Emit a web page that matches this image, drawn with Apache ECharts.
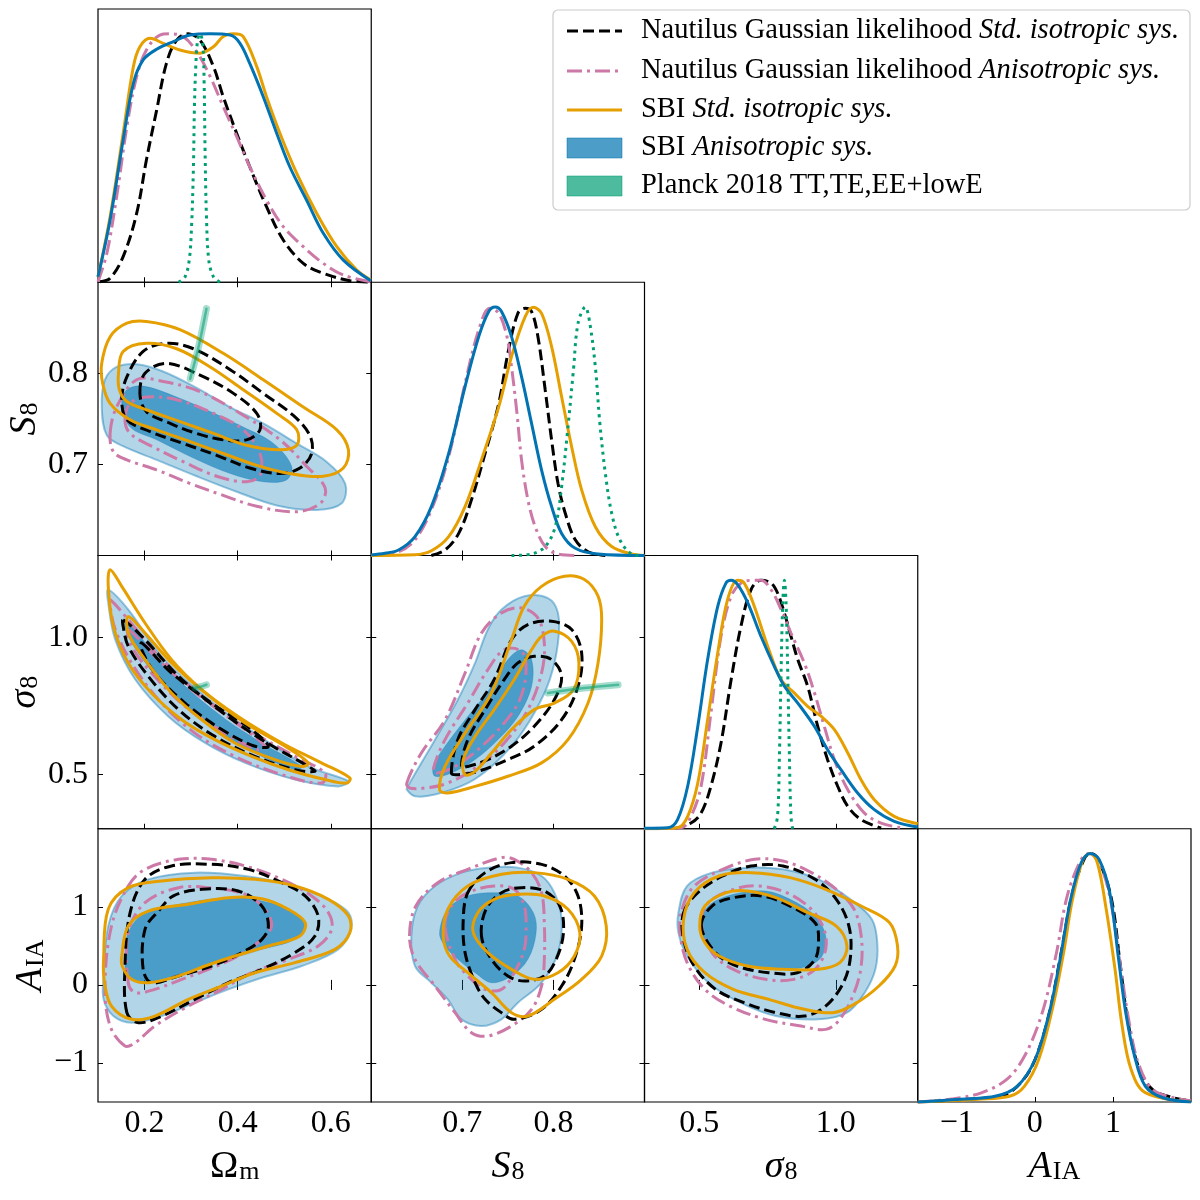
<!DOCTYPE html>
<html><head><meta charset="utf-8">
<script src="https://cdn.jsdelivr.net/npm/echarts@6/dist/echarts.min.js"></script>
<style>html,body{margin:0;padding:0;background:#fff}#c{width:1200px;height:1200px}</style>
</head><body><div id="c"></div>
<script>
// ---------------- tick labels ----------------
const omTicks = [0.2, 0.4, 0.6];
const s8Ticks = [0.7, 0.8];
const sigTicks = [0.5, 1.0];
const aiaTicks = [-1, 0, 1];

// ---------------- 1D marginals (normalised to peak 1) ----------------
const omDiag_nautStd = [[0.104,0.002],[0.126,0.016],[0.154,0.103],[0.183,0.277],[0.204,0.492],[0.226,0.693],[0.247,0.881],[0.269,0.975],[0.294,1.0],[0.319,0.975],[0.348,0.868],[0.369,0.747],[0.398,0.599],[0.426,0.465],[0.462,0.304],[0.498,0.170],[0.541,0.076],[0.584,0.036],[0.641,0.006],[0.686,0]];
const omDiag_nautAniso = [[0.100,0.002],[0.119,0.116],[0.140,0.344],[0.162,0.626],[0.183,0.828],[0.204,0.935],[0.233,0.995],[0.255,1.0],[0.283,0.989],[0.312,0.928],[0.341,0.828],[0.369,0.707],[0.398,0.586],[0.426,0.465],[0.462,0.331],[0.498,0.224],[0.541,0.143],[0.584,0.076],[0.627,0.029],[0.686,0.002]];
const omDiag_sbiStd = [[0.100,0.022],[0.126,0.264],[0.154,0.599],[0.176,0.868],[0.190,0.948],[0.212,0.982],[0.240,0.962],[0.276,0.935],[0.319,0.922],[0.348,0.948],[0.369,0.989],[0.391,1.0],[0.412,0.989],[0.441,0.868],[0.462,0.747],[0.491,0.599],[0.527,0.438],[0.570,0.277],[0.613,0.143],[0.656,0.049],[0.686,0.009]];
const omDiag_sbiAniso = [[0.100,0.022],[0.126,0.251],[0.154,0.573],[0.176,0.801],[0.197,0.895],[0.226,0.938],[0.262,0.969],[0.298,0.995],[0.341,1.0],[0.384,0.995],[0.405,0.962],[0.426,0.881],[0.455,0.747],[0.484,0.599],[0.512,0.465],[0.548,0.331],[0.584,0.197],[0.627,0.089],[0.686,0.006]];
const omDiag_planck = [[0.273,0],[0.287,0.022],[0.296,0.089],[0.301,0.224],[0.305,0.465],[0.307,0.693],[0.310,0.868],[0.314,0.975],[0.319,1.0],[0.325,0.962],[0.328,0.801],[0.330,0.532],[0.333,0.264],[0.338,0.089],[0.348,0.022],[0.362,0]];

const s8Diag_nautStd = [[0.666,0],[0.681,0.022],[0.696,0.089],[0.710,0.224],[0.725,0.411],[0.740,0.612],[0.750,0.814],[0.761,0.975],[0.769,0.995],[0.776,0.982],[0.783,0.881],[0.791,0.666],[0.798,0.465],[0.805,0.291],[0.813,0.170],[0.824,0.063],[0.838,0.015],[0.857,0]];
const s8Diag_nautAniso = [[0.600,0],[0.630,0.015],[0.648,0.063],[0.666,0.184],[0.685,0.398],[0.703,0.693],[0.718,0.908],[0.730,0.995],[0.740,0.975],[0.749,0.881],[0.754,0.760],[0.760,0.572],[0.765,0.385],[0.772,0.224],[0.780,0.116],[0.791,0.036],[0.805,0.006],[0.827,0]];
const s8Diag_sbiStd = [[0.600,0],[0.648,0.003],[0.666,0.019],[0.685,0.076],[0.703,0.197],[0.721,0.385],[0.740,0.599],[0.754,0.801],[0.769,0.962],[0.778,0.999],[0.787,0.975],[0.798,0.841],[0.809,0.639],[0.820,0.438],[0.831,0.264],[0.846,0.116],[0.864,0.036],[0.886,0.006],[0.900,0]];
const s8Diag_sbiAniso = [[0.600,0.002],[0.615,0.009],[0.630,0.022],[0.648,0.076],[0.666,0.197],[0.685,0.411],[0.703,0.680],[0.718,0.881],[0.729,0.982],[0.736,1.0],[0.743,0.982],[0.754,0.881],[0.765,0.720],[0.776,0.532],[0.787,0.344],[0.798,0.197],[0.809,0.089],[0.824,0.029],[0.849,0.006],[0.900,0]];
const s8Diag_planck = [[0.754,0],[0.776,0.006],[0.791,0.036],[0.802,0.116],[0.809,0.277],[0.816,0.518],[0.822,0.747],[0.827,0.934],[0.835,1.0],[0.840,0.934],[0.846,0.760],[0.851,0.532],[0.857,0.331],[0.864,0.170],[0.873,0.063],[0.886,0.006],[0.897,0]];

const sigDiag_nautStd = [[0.409,0],[0.470,0.023],[0.507,0.063],[0.543,0.171],[0.580,0.345],[0.617,0.600],[0.653,0.815],[0.690,0.963],[0.726,1.0],[0.763,0.989],[0.787,0.949],[0.812,0.868],[0.836,0.775],[0.861,0.681],[0.897,0.574],[0.934,0.412],[0.970,0.278],[1.007,0.171],[1.044,0.090],[1.092,0.037],[1.166,0.003]];
const sigDiag_nautAniso = [[0.299,0],[0.434,0.003],[0.470,0.050],[0.507,0.171],[0.543,0.466],[0.580,0.775],[0.617,0.936],[0.653,0.989],[0.690,1.0],[0.726,1.0],[0.763,0.963],[0.800,0.882],[0.836,0.788],[0.885,0.667],[0.922,0.547],[0.958,0.412],[0.995,0.278],[1.044,0.157],[1.105,0.063],[1.166,0.023],[1.239,0.004]];
const sigDiag_sbiStd = [[0.299,0],[0.421,0.004],[0.458,0.050],[0.495,0.184],[0.531,0.439],[0.568,0.708],[0.604,0.922],[0.641,1.0],[0.665,0.989],[0.702,0.895],[0.751,0.734],[0.800,0.600],[0.848,0.547],[0.897,0.493],[0.946,0.453],[0.995,0.399],[1.044,0.305],[1.092,0.198],[1.141,0.117],[1.214,0.050],[1.300,0.020]];
const sigDiag_sbiAniso = [[0.299,0.002],[0.385,0.004],[0.421,0.037],[0.458,0.171],[0.495,0.412],[0.531,0.681],[0.568,0.895],[0.598,0.989],[0.617,1.0],[0.641,0.983],[0.678,0.909],[0.726,0.775],[0.775,0.654],[0.812,0.574],[0.861,0.506],[0.922,0.412],[0.970,0.318],[1.019,0.238],[1.080,0.144],[1.141,0.077],[1.214,0.030],[1.300,0.007]];
const sigDiag_planck = [[0.775,0],[0.787,0.050],[0.794,0.305],[0.800,0.641],[0.806,0.909],[0.812,1.0],[0.818,0.909],[0.824,0.641],[0.830,0.305],[0.836,0.050],[0.842,0]];

const aiaDiag_nautStd = [[-1.5,0],[-0.860,0.011],[-0.405,0.027],[-0.178,0.078],[0.004,0.172],[0.186,0.360],[0.345,0.615],[0.482,0.843],[0.641,0.984],[0.723,1.0],[0.823,0.970],[0.982,0.816],[1.096,0.547],[1.187,0.333],[1.323,0.145],[1.505,0.051],[1.778,0.017],[2.0,0.005]];
const aiaDiag_nautAniso = [[-1.5,0],[-1.042,0.013],[-0.678,0.038],[-0.360,0.091],[-0.132,0.185],[0.095,0.360],[0.277,0.601],[0.414,0.829],[0.595,0.977],[0.695,1.0],[0.823,0.964],[0.959,0.829],[1.096,0.547],[1.209,0.319],[1.323,0.158],[1.505,0.051],[1.778,0.017],[2.0,0.005]];
const aiaDiag_sbiStd = [[-1.5,0],[-0.724,0.011],[-0.314,0.024],[-0.132,0.064],[0.050,0.172],[0.232,0.386],[0.368,0.601],[0.482,0.816],[0.618,0.977],[0.709,1.0],[0.800,0.964],[0.914,0.776],[1.027,0.534],[1.118,0.306],[1.232,0.132],[1.414,0.038],[2.0,0]];
const aiaDiag_sbiAniso = [[-1.5,0],[-0.951,0.011],[-0.496,0.024],[-0.223,0.064],[0.004,0.172],[0.186,0.360],[0.323,0.574],[0.459,0.816],[0.595,0.964],[0.709,1.0],[0.823,0.977],[0.959,0.843],[1.073,0.574],[1.164,0.360],[1.277,0.185],[1.414,0.064],[1.641,0.017],[2.0,0]];

// ---------------- 2D contours (68% and 95%) ----------------
// Omega_m - S8
const omS8_nautStd_68 = [[0.190,0.778],[0.201,0.800],[0.247,0.811],[0.319,0.798],[0.391,0.778],[0.441,0.756],[0.448,0.738],[0.419,0.727],[0.369,0.727],[0.312,0.734],[0.255,0.745],[0.204,0.758]];
const omS8_nautStd_95 = [[0.151,0.771],[0.162,0.796],[0.197,0.824],[0.247,0.833],[0.305,0.827],[0.384,0.804],[0.455,0.778],[0.519,0.754],[0.555,0.732],[0.559,0.712],[0.534,0.696],[0.491,0.690],[0.426,0.696],[0.355,0.710],[0.283,0.723],[0.212,0.736],[0.162,0.749]];
const omS8_nautAniso_68 = [[0.158,0.749],[0.169,0.767],[0.204,0.774],[0.269,0.771],[0.348,0.756],[0.412,0.738],[0.448,0.712],[0.448,0.688],[0.419,0.681],[0.355,0.687],[0.283,0.703],[0.219,0.719],[0.169,0.734]];
const omS8_nautAniso_95 = [[0.126,0.734],[0.140,0.763],[0.183,0.793],[0.240,0.791],[0.319,0.780],[0.412,0.754],[0.491,0.727],[0.548,0.698],[0.588,0.674],[0.577,0.657],[0.527,0.648],[0.441,0.654],[0.369,0.666],[0.298,0.679],[0.226,0.694],[0.162,0.705],[0.133,0.714]];
const omS8_sbiStd_68 = [[0.144,0.800],[0.154,0.824],[0.204,0.833],[0.269,0.827],[0.341,0.807],[0.412,0.782],[0.484,0.756],[0.527,0.738],[0.527,0.721],[0.491,0.716],[0.419,0.721],[0.348,0.734],[0.276,0.747],[0.204,0.760],[0.162,0.769],[0.146,0.782]];
const omS8_sbiStd_95 = [[0.108,0.811],[0.126,0.840],[0.162,0.855],[0.204,0.857],[0.276,0.848],[0.369,0.822],[0.455,0.793],[0.541,0.763],[0.613,0.738],[0.638,0.716],[0.627,0.696],[0.584,0.687],[0.512,0.690],[0.441,0.699],[0.369,0.712],[0.298,0.725],[0.226,0.738],[0.169,0.749],[0.126,0.767],[0.110,0.789]];
const omS8_sbiAniso_68 = [[0.151,0.767],[0.162,0.782],[0.197,0.786],[0.269,0.774],[0.341,0.758],[0.412,0.741],[0.477,0.723],[0.516,0.698],[0.505,0.683],[0.455,0.681],[0.384,0.690],[0.305,0.707],[0.226,0.727],[0.169,0.741]];
const omS8_sbiAniso_95 = [[0.108,0.763],[0.115,0.793],[0.140,0.807],[0.183,0.810],[0.240,0.802],[0.312,0.784],[0.383,0.763],[0.455,0.745],[0.527,0.723],[0.591,0.703],[0.631,0.679],[0.623,0.657],[0.570,0.650],[0.484,0.655],[0.398,0.670],[0.312,0.687],[0.226,0.705],[0.154,0.720],[0.119,0.732]];
const omS8_planck = [[0.298,0.794],[0.316,0.829],[0.333,0.871]];

// Omega_m - sigma8
const omSig_nautStd_68 = [[0.194,0.980],[0.258,0.870],[0.344,0.760],[0.430,0.663],[0.466,0.602],[0.437,0.602],[0.366,0.663],[0.287,0.760],[0.222,0.870],[0.194,0.955]];
const omSig_nautStd_95 = [[0.154,1.065],[0.201,0.992],[0.273,0.858],[0.359,0.736],[0.452,0.626],[0.552,0.528],[0.566,0.510],[0.523,0.516],[0.437,0.565],[0.351,0.638],[0.273,0.736],[0.208,0.858],[0.165,0.968],[0.154,1.041]];
const omSig_nautAniso_68 = [[0.165,1.029],[0.222,0.931],[0.301,0.809],[0.387,0.699],[0.459,0.602],[0.444,0.589],[0.373,0.650],[0.287,0.748],[0.215,0.870],[0.172,0.968]];
const omSig_nautAniso_95 = [[0.126,1.138],[0.165,1.065],[0.237,0.919],[0.323,0.785],[0.423,0.663],[0.523,0.565],[0.588,0.504],[0.580,0.467],[0.495,0.498],[0.394,0.565],[0.308,0.650],[0.230,0.772],[0.172,0.907],[0.137,1.029],[0.126,1.114]];
const omSig_sbiStd_68 = [[0.165,1.077],[0.201,1.016],[0.258,0.907],[0.330,0.797],[0.416,0.687],[0.502,0.602],[0.552,0.541],[0.538,0.528],[0.480,0.553],[0.394,0.614],[0.323,0.699],[0.258,0.797],[0.201,0.919],[0.165,1.016]];
const omSig_sbiStd_95 = [[0.126,1.248],[0.151,1.187],[0.201,1.053],[0.258,0.919],[0.323,0.809],[0.401,0.711],[0.495,0.614],[0.580,0.541],[0.641,0.486],[0.634,0.467],[0.588,0.480],[0.509,0.516],[0.430,0.565],[0.351,0.626],[0.280,0.699],[0.215,0.797],[0.165,0.907],[0.133,1.041],[0.122,1.187]];
const omSig_sbiAniso_68 = [[0.158,1.065],[0.208,0.968],[0.280,0.833],[0.366,0.711],[0.452,0.614],[0.538,0.528],[0.523,0.516],[0.437,0.577],[0.351,0.663],[0.273,0.772],[0.208,0.894],[0.165,1.004]];
const omSig_sbiAniso_95 = [[0.122,1.175],[0.165,1.102],[0.237,0.931],[0.330,0.785],[0.437,0.650],[0.552,0.528],[0.638,0.474],[0.616,0.455],[0.523,0.480],[0.416,0.541],[0.330,0.614],[0.251,0.711],[0.180,0.846],[0.137,0.992],[0.122,1.126]];
const omSig_planck = [[0.308,0.815],[0.320,0.820],[0.333,0.827]];

// S8 - sigma8
const s8Sig_nautStd_68 = [[0.699,0.528],[0.706,0.626],[0.725,0.736],[0.746,0.846],[0.761,0.907],[0.779,0.931],[0.798,0.919],[0.809,0.858],[0.801,0.772],[0.779,0.675],[0.754,0.602],[0.728,0.553],[0.706,0.528]];
const s8Sig_nautStd_95 = [[0.688,0.504],[0.695,0.626],[0.714,0.736],[0.735,0.846],[0.754,0.992],[0.772,1.047],[0.798,1.059],[0.820,1.029],[0.831,0.943],[0.827,0.821],[0.809,0.699],[0.779,0.602],[0.750,0.553],[0.717,0.510],[0.695,0.498]];
const s8Sig_nautAniso_68 = [[0.668,0.516],[0.681,0.626],[0.706,0.760],[0.728,0.882],[0.746,0.955],[0.765,0.949],[0.770,0.882],[0.763,0.772],[0.743,0.675],[0.717,0.589],[0.692,0.528],[0.673,0.504]];
const s8Sig_nautAniso_95 = [[0.639,0.467],[0.655,0.577],[0.681,0.699],[0.703,0.870],[0.721,1.016],[0.743,1.090],[0.765,1.108],[0.783,1.071],[0.790,0.980],[0.787,0.870],[0.772,0.736],[0.746,0.614],[0.717,0.528],[0.684,0.467],[0.659,0.449],[0.642,0.449]];
const s8Sig_sbiStd_68 = [[0.801,1.023],[0.820,0.986],[0.828,0.907],[0.822,0.809],[0.801,0.760],[0.779,0.736],[0.754,0.663],[0.732,0.577],[0.714,0.510],[0.703,0.498],[0.701,0.553],[0.714,0.638],[0.735,0.736],[0.757,0.846],[0.776,0.955],[0.787,1.004]];
const s8Sig_sbiStd_95 = [[0.675,0.443],[0.681,0.528],[0.703,0.650],[0.732,0.797],[0.754,0.992],[0.768,1.114],[0.787,1.187],[0.812,1.224],[0.834,1.212],[0.849,1.151],[0.853,1.065],[0.849,0.907],[0.838,0.760],[0.816,0.626],[0.787,0.541],[0.750,0.492],[0.714,0.455],[0.684,0.431]];
const s8Sig_sbiAniso_68 = [[0.668,0.528],[0.681,0.602],[0.706,0.711],[0.732,0.821],[0.750,0.919],[0.765,0.955],[0.776,0.919],[0.776,0.821],[0.761,0.711],[0.739,0.626],[0.714,0.553],[0.688,0.504],[0.670,0.492]];
const s8Sig_sbiAniso_95 = [[0.640,0.455],[0.670,0.626],[0.695,0.772],[0.714,0.907],[0.728,1.029],[0.743,1.102],[0.768,1.151],[0.794,1.144],[0.805,1.090],[0.805,0.980],[0.796,0.846],[0.779,0.724],[0.757,0.614],[0.732,0.528],[0.706,0.467],[0.670,0.425],[0.648,0.419],[0.639,0.443]];
const s8Sig_planck = [[0.794,0.797],[0.834,0.815],[0.871,0.827]];

// Omega_m - A_IA
const omA_nautStd_68 = [[0.197,0.199],[0.201,0.712],[0.230,0.946],[0.262,1.140],[0.323,1.224],[0.401,1.203],[0.452,1.010],[0.466,0.754],[0.452,0.583],[0.409,0.413],[0.344,0.242],[0.273,0.114],[0.215,0.028]];
const omA_nautStd_95 = [[0.162,-0.356],[0.158,0.242],[0.169,0.925],[0.201,1.352],[0.258,1.523],[0.344,1.544],[0.423,1.480],[0.495,1.309],[0.545,1.139],[0.573,0.882],[0.566,0.626],[0.523,0.413],[0.452,0.199],[0.380,0.028],[0.308,-0.185],[0.237,-0.399],[0.187,-0.484]];
const omA_nautAniso_68 = [[0.165,0.028],[0.165,0.669],[0.201,1.053],[0.273,1.245],[0.337,1.245],[0.416,1.160],[0.459,0.968],[0.473,0.754],[0.452,0.583],[0.401,0.370],[0.337,0.199],[0.280,0.071],[0.222,-0.057],[0.180,-0.100]];
const omA_nautAniso_95 = [[0.158,-0.783],[0.126,-0.527],[0.115,-0.014],[0.129,0.754],[0.165,1.267],[0.201,1.480],[0.273,1.608],[0.344,1.608],[0.416,1.523],[0.495,1.352],[0.559,1.139],[0.595,0.925],[0.602,0.712],[0.573,0.498],[0.509,0.327],[0.430,0.156],[0.366,-0.057],[0.294,-0.271],[0.222,-0.527],[0.180,-0.740]];
const omA_sbiStd_68 = [[0.151,0.370],[0.165,0.754],[0.208,0.946],[0.294,1.032],[0.380,1.117],[0.452,1.104],[0.509,0.968],[0.545,0.797],[0.534,0.626],[0.466,0.498],[0.394,0.370],[0.330,0.242],[0.273,0.114],[0.208,0.028],[0.172,0.071],[0.152,0.242]];
const omA_sbiStd_95 = [[0.112,0.327],[0.122,0.968],[0.165,1.245],[0.237,1.331],[0.344,1.373],[0.437,1.352],[0.523,1.267],[0.595,1.096],[0.638,0.882],[0.641,0.669],[0.609,0.455],[0.523,0.285],[0.437,0.156],[0.366,-0.014],[0.294,-0.185],[0.222,-0.399],[0.172,-0.441],[0.129,-0.271],[0.114,0.028]];
const omA_sbiAniso_68 = [[0.158,0.327],[0.165,0.669],[0.201,0.925],[0.273,1.032],[0.380,1.117],[0.452,1.075],[0.523,0.925],[0.545,0.754],[0.523,0.583],[0.452,0.455],[0.380,0.327],[0.308,0.199],[0.237,0.071],[0.187,0.028],[0.162,0.156]];
const omA_sbiAniso_95 = [[0.112,0.114],[0.122,0.754],[0.151,1.139],[0.208,1.352],[0.308,1.438],[0.416,1.395],[0.509,1.288],[0.595,1.096],[0.638,0.925],[0.644,0.712],[0.616,0.455],[0.538,0.242],[0.452,0.092],[0.380,-0.057],[0.308,-0.228],[0.237,-0.399],[0.172,-0.484],[0.133,-0.399],[0.112,-0.185]];

// S8 - A_IA
const s8A_nautStd_68 = [[0.721,0.626],[0.726,0.968],[0.743,1.181],[0.765,1.245],[0.790,1.203],[0.807,1.010],[0.811,0.669],[0.803,0.327],[0.790,0.114],[0.768,0.050],[0.750,0.114],[0.732,0.327]];
const s8A_nautStd_95 = [[0.706,1.181],[0.725,1.438],[0.754,1.566],[0.787,1.544],[0.812,1.395],[0.827,1.139],[0.831,0.754],[0.823,0.327],[0.809,-0.014],[0.787,-0.313],[0.757,-0.441],[0.743,-0.356],[0.725,-0.185],[0.714,0.028],[0.703,0.413],[0.701,0.840]];
const s8A_nautAniso_68 = [[0.681,0.754],[0.688,1.010],[0.706,1.181],[0.735,1.267],[0.757,1.224],[0.768,1.010],[0.770,0.754],[0.768,0.455],[0.757,0.156],[0.743,-0.057],[0.725,-0.057],[0.706,0.114],[0.692,0.327]];
const s8A_nautAniso_95 = [[0.642,0.626],[0.649,1.010],[0.673,1.309],[0.706,1.480],[0.743,1.630],[0.757,1.608],[0.776,1.438],[0.787,1.181],[0.790,0.797],[0.790,0.327],[0.787,-0.014],[0.776,-0.313],[0.754,-0.527],[0.728,-0.655],[0.710,-0.612],[0.692,-0.356],[0.670,-0.014],[0.648,0.327]];
const s8A_sbiStd_68 = [[0.712,0.669],[0.717,0.925],[0.735,1.096],[0.761,1.160],[0.790,1.139],[0.816,0.968],[0.829,0.669],[0.823,0.370],[0.805,0.156],[0.779,0.071],[0.754,0.199],[0.728,0.413]];
const s8A_sbiStd_95 = [[0.679,0.626],[0.684,0.968],[0.706,1.267],[0.743,1.416],[0.779,1.438],[0.816,1.352],[0.845,1.139],[0.858,0.754],[0.853,0.370],[0.831,0.071],[0.801,-0.185],[0.772,-0.399],[0.754,-0.356],[0.732,-0.100],[0.706,0.156],[0.686,0.370]];
const s8A_sbiAniso_68 = [[0.675,0.669],[0.684,0.968],[0.706,1.139],[0.735,1.181],[0.761,1.139],[0.778,0.925],[0.781,0.669],[0.772,0.327],[0.754,0.114],[0.732,0.028],[0.714,0.156],[0.695,0.327],[0.681,0.498]];
const s8A_sbiAniso_95 = [[0.644,0.626],[0.651,1.010],[0.670,1.267],[0.699,1.438],[0.728,1.502],[0.761,1.502],[0.787,1.395],[0.801,1.181],[0.809,0.840],[0.805,0.413],[0.787,0.028],[0.761,-0.228],[0.743,-0.441],[0.721,-0.527],[0.699,-0.441],[0.684,-0.185],[0.666,0.028],[0.648,0.242]];

// sigma8 - A_IA
const sigA_nautStd_68 = [[0.508,0.754],[0.547,1.010],[0.625,1.117],[0.729,1.139],[0.833,1.010],[0.924,0.797],[0.937,0.583],[0.924,0.327],[0.859,0.156],[0.755,0.156],[0.638,0.242],[0.560,0.413]];
const sigA_nautStd_95 = [[0.443,0.925],[0.495,1.181],[0.586,1.395],[0.690,1.523],[0.807,1.523],[0.924,1.352],[1.002,1.096],[1.048,0.754],[1.054,0.370],[1.028,0.028],[0.963,-0.271],[0.885,-0.399],[0.781,-0.356],[0.664,-0.228],[0.560,-0.057],[0.482,0.242],[0.443,0.583]];
const sigA_nautAniso_68 = [[0.508,0.797],[0.534,1.053],[0.625,1.224],[0.716,1.267],[0.820,1.181],[0.911,0.968],[0.957,0.712],[0.963,0.455],[0.924,0.199],[0.846,0.071],[0.742,0.071],[0.625,0.199],[0.547,0.413]];
const sigA_nautAniso_95 = [[0.437,0.968],[0.482,1.267],[0.586,1.480],[0.703,1.608],[0.807,1.587],[0.911,1.438],[1.002,1.224],[1.067,0.968],[1.093,0.626],[1.093,0.242],[1.067,-0.100],[1.015,-0.441],[0.963,-0.570],[0.872,-0.527],[0.742,-0.441],[0.612,-0.271],[0.521,-0.057],[0.456,0.285],[0.430,0.669]];
const sigA_sbiStd_68 = [[0.502,0.754],[0.521,1.010],[0.599,1.181],[0.677,1.203],[0.781,1.117],[0.898,0.925],[1.002,0.754],[1.041,0.498],[1.015,0.285],[0.937,0.199],[0.807,0.199],[0.677,0.242],[0.573,0.370],[0.521,0.541]];
const sigA_sbiStd_95 = [[0.443,0.840],[0.482,1.181],[0.573,1.395],[0.690,1.438],[0.833,1.374],[0.963,1.224],[1.093,1.010],[1.197,0.797],[1.226,0.498],[1.217,0.242],[1.158,-0.014],[1.067,-0.249],[0.989,-0.356],[0.885,-0.313],[0.755,-0.185],[0.625,-0.057],[0.521,0.156],[0.456,0.455]];
const sigA_sbiAniso_68 = [[0.502,0.754],[0.534,1.010],[0.625,1.160],[0.742,1.203],[0.833,1.096],[0.924,0.882],[0.963,0.626],[0.950,0.370],[0.898,0.242],[0.807,0.199],[0.677,0.242],[0.586,0.370],[0.521,0.541]];
const sigA_sbiAniso_95 = [[0.424,0.925],[0.456,1.267],[0.547,1.438],[0.677,1.502],[0.807,1.480],[0.937,1.352],[1.054,1.096],[1.132,0.840],[1.152,0.541],[1.145,0.199],[1.106,-0.100],[1.041,-0.356],[0.937,-0.441],[0.781,-0.399],[0.651,-0.228],[0.534,0.028],[0.456,0.370],[0.424,0.669]];

// ---------------- styling / layout ----------------
const FONT = 'Liberation Serif';
const C_BLACK = '#000000', C_PINK = '#cc79a7', C_ORANGE = '#e69f00', C_BLUE = '#0173b2', C_GREEN = '#029e73';
const DASH_BLACK = [11, 5], DASH_PINK = [15, 5, 3, 5], DOT_GREEN = [3, 4.5];
const L0 = 98, T0 = 9, S = 273.25;

const nameRich = {
  u: {fontFamily: FONT, fontSize: 38, color: '#000', verticalAlign: 'top', lineHeight: 40},
  i: {fontFamily: FONT, fontSize: 38, fontStyle: 'italic', color: '#000', verticalAlign: 'top', lineHeight: 40},
  s: {fontFamily: FONT, fontSize: 26, color: '#000', verticalAlign: 'top', lineHeight: 40, padding: [11, 0, 0, 1]}
};
const PARAMS = {
  om:  {min: 0.1, max: 0.687, ticks: omTicks, dec: 1, name: '{u|Ω}{s|m}'},
  s8:  {min: 0.6, max: 0.9, ticks: s8Ticks, dec: 1, name: '{i|S}{s|8}'},
  sig: {min: 0.3, max: 1.3, ticks: sigTicks, dec: 1, name: '{i|σ}{s|8}'},
  aia: {min: -1.5, max: 2.0, ticks: aiaTicks, dec: 0, name: '{i|A}{s|IA}'}
};
const fmt = (v, d) => Number(v).toFixed(d).replace('-', '\u2212');

const grids = [], xAxes = [], yAxes = [], series = [];

function axisCommon(p, showLabel) {
  return {
    type: 'value', min: p.min, max: p.max,
    axisLine: {show: false}, splitLine: {show: false},
    axisTick: {show: true, inside: true, length: 5, customValues: p.ticks, lineStyle: {color: '#000', width: 1}},
    axisLabel: {show: showLabel, customValues: p.ticks, formatter: v => fmt(v, p.dec),
      fontFamily: FONT, fontSize: 32, color: '#000'}
  };
}
function makeX(gi, p, pos, showLabel) {
  const a = axisCommon(p, showLabel);
  a.gridIndex = gi; a.position = pos;
  a.axisLabel.margin = 6;
  if (showLabel) { a.name = p.name; a.nameLocation = 'middle'; a.nameGap = 46; a.nameTextStyle = {rich: nameRich}; }
  return a;
}
function makeY(gi, p, pos, showLabel) {
  const a = axisCommon(p, showLabel);
  a.gridIndex = gi; a.position = pos;
  a.axisLabel.margin = 10;
  if (showLabel) { a.name = p.name; a.nameLocation = 'middle'; a.nameGap = 44; a.nameRotate = 90; a.nameTextStyle = {rich: nameRich}; }
  return a;
}
function addPanel(row, col, xp, yp) {
  const gi = grids.length;
  grids.push({left: L0 + col * S, top: T0 + row * S, width: S, height: S, show: true,
    borderColor: '#000', borderWidth: 1.2, backgroundColor: 'rgba(0,0,0,0)'});
  const xi = xAxes.length;
  xAxes.push(makeX(gi, PARAMS[xp], 'bottom', row === 3));
  const yi = yAxes.length;
  if (!yp) {
    yAxes.push({gridIndex: gi, type: 'value', min: 0, max: 1.1, show: false});
  } else {
    xAxes.push(makeX(gi, PARAMS[xp], 'top', false));
    yAxes.push(makeY(gi, PARAMS[yp], 'left', col === 0));
    yAxes.push(makeY(gi, PARAMS[yp], 'right', false));
  }
  return {xi, yi};
}

function line1D(ax, data, color, dash, width) {
  series.push({type: 'line', xAxisIndex: ax.xi, yAxisIndex: ax.yi, data: data, showSymbol: false, symbol: 'none',
    smooth: 0.35, silent: true, clip: true,
    lineStyle: {color: color, width: width || 3, type: dash || 'solid', cap: 'butt'}});
}
function contours(ax, list, style) {
  series.push({type: 'custom', coordinateSystem: 'cartesian2d', xAxisIndex: ax.xi, yAxisIndex: ax.yi,
    silent: true, clip: true,
    data: list.map((c, k) => [c[0][0], c[0][1], k]),
    encode: {x: 0, y: 1},
    renderItem: (params, api) => {
      const pts = list[params.dataIndex].map(p => api.coord(p));
      return {type: 'polygon', shape: {points: pts, smooth: 0.35}, style: Object.assign({}, style)};
    }});
}
function planck2D(ax, data) {
  series.push({type: 'line', xAxisIndex: ax.xi, yAxisIndex: ax.yi, data: data, showSymbol: false, symbol: 'none',
    smooth: 0.3, silent: true, lineStyle: {color: 'rgba(2,158,115,0.35)', width: 7, cap: 'round'}});
  series.push({type: 'line', xAxisIndex: ax.xi, yAxisIndex: ax.yi, data: data, showSymbol: false, symbol: 'none',
    smooth: 0.3, silent: true, lineStyle: {color: 'rgba(2,158,115,0.55)', width: 2.5, cap: 'round'}});
}

const lineStyleOf = (color, dash) => ({fill: 'none', stroke: color, lineWidth: 3, lineDash: dash || null, lineCap: 'butt'});
const FILL95 = {fill: 'rgba(1,115,178,0.30)', stroke: 'rgba(1,115,178,0.40)', lineWidth: 2};
const FILL68 = {fill: 'rgba(1,115,178,0.59)', stroke: 'rgba(1,115,178,0.25)', lineWidth: 1};

function panel2D(ax, set) {
  contours(ax, [set.sbiAniso95], FILL95);
  contours(ax, [set.sbiAniso68], FILL68);
  contours(ax, [set.nautAniso95, set.nautAniso68], lineStyleOf(C_PINK, DASH_PINK));
  contours(ax, [set.nautStd95, set.nautStd68], lineStyleOf(C_BLACK, DASH_BLACK));
  contours(ax, [set.sbiStd95, set.sbiStd68], lineStyleOf(C_ORANGE));
  if (set.planck) planck2D(ax, set.planck);
}
function panel1D(ax, set) {
  line1D(ax, set.nautStd, C_BLACK, DASH_BLACK);
  line1D(ax, set.nautAniso, C_PINK, DASH_PINK);
  line1D(ax, set.sbiStd, C_ORANGE);
  line1D(ax, set.sbiAniso, C_BLUE);
  if (set.planck) line1D(ax, set.planck, C_GREEN, DOT_GREEN);
}

// row 0
panel1D(addPanel(0, 0, 'om', null), {nautStd: omDiag_nautStd, nautAniso: omDiag_nautAniso, sbiStd: omDiag_sbiStd, sbiAniso: omDiag_sbiAniso, planck: omDiag_planck});
// row 1
panel2D(addPanel(1, 0, 'om', 's8'), {nautStd68: omS8_nautStd_68, nautStd95: omS8_nautStd_95, nautAniso68: omS8_nautAniso_68, nautAniso95: omS8_nautAniso_95, sbiStd68: omS8_sbiStd_68, sbiStd95: omS8_sbiStd_95, sbiAniso68: omS8_sbiAniso_68, sbiAniso95: omS8_sbiAniso_95, planck: omS8_planck});
panel1D(addPanel(1, 1, 's8', null), {nautStd: s8Diag_nautStd, nautAniso: s8Diag_nautAniso, sbiStd: s8Diag_sbiStd, sbiAniso: s8Diag_sbiAniso, planck: s8Diag_planck});
// row 2
panel2D(addPanel(2, 0, 'om', 'sig'), {nautStd68: omSig_nautStd_68, nautStd95: omSig_nautStd_95, nautAniso68: omSig_nautAniso_68, nautAniso95: omSig_nautAniso_95, sbiStd68: omSig_sbiStd_68, sbiStd95: omSig_sbiStd_95, sbiAniso68: omSig_sbiAniso_68, sbiAniso95: omSig_sbiAniso_95, planck: omSig_planck});
panel2D(addPanel(2, 1, 's8', 'sig'), {nautStd68: s8Sig_nautStd_68, nautStd95: s8Sig_nautStd_95, nautAniso68: s8Sig_nautAniso_68, nautAniso95: s8Sig_nautAniso_95, sbiStd68: s8Sig_sbiStd_68, sbiStd95: s8Sig_sbiStd_95, sbiAniso68: s8Sig_sbiAniso_68, sbiAniso95: s8Sig_sbiAniso_95, planck: s8Sig_planck});
panel1D(addPanel(2, 2, 'sig', null), {nautStd: sigDiag_nautStd, nautAniso: sigDiag_nautAniso, sbiStd: sigDiag_sbiStd, sbiAniso: sigDiag_sbiAniso, planck: sigDiag_planck});
// row 3
panel2D(addPanel(3, 0, 'om', 'aia'), {nautStd68: omA_nautStd_68, nautStd95: omA_nautStd_95, nautAniso68: omA_nautAniso_68, nautAniso95: omA_nautAniso_95, sbiStd68: omA_sbiStd_68, sbiStd95: omA_sbiStd_95, sbiAniso68: omA_sbiAniso_68, sbiAniso95: omA_sbiAniso_95});
panel2D(addPanel(3, 1, 's8', 'aia'), {nautStd68: s8A_nautStd_68, nautStd95: s8A_nautStd_95, nautAniso68: s8A_nautAniso_68, nautAniso95: s8A_nautAniso_95, sbiStd68: s8A_sbiStd_68, sbiStd95: s8A_sbiStd_95, sbiAniso68: s8A_sbiAniso_68, sbiAniso95: s8A_sbiAniso_95});
panel2D(addPanel(3, 2, 'sig', 'aia'), {nautStd68: sigA_nautStd_68, nautStd95: sigA_nautStd_95, nautAniso68: sigA_nautAniso_68, nautAniso95: sigA_nautAniso_95, sbiStd68: sigA_sbiStd_68, sbiStd95: sigA_sbiStd_95, sbiAniso68: sigA_sbiAniso_68, sbiAniso95: sigA_sbiAniso_95});
panel1D(addPanel(3, 3, 'aia', null), {nautStd: aiaDiag_nautStd, nautAniso: aiaDiag_nautAniso, sbiStd: aiaDiag_sbiStd, sbiAniso: aiaDiag_sbiAniso});

// ---------------- legend (graphic) ----------------
const legendLabels = [
  ['Nautilus Gaussian likelihood ', 'Std. isotropic sys.'],
  ['Nautilus Gaussian likelihood ', 'Anisotropic sys.'],
  ['SBI ', 'Std. isotropic sys.'],
  ['SBI ', 'Anisotropic sys.'],
  ['Planck 2018 TT,TE,EE+lowE', '']
];
const legRows = [31, 71, 110, 148, 186];
const legRich = {
  n: {fontFamily: FONT, fontSize: 28.5, fill: '#000'},
  it: {fontFamily: FONT, fontSize: 28.5, fontStyle: 'italic', fill: '#000'}
};
const graphic = [
  {type: 'rect', z: 100, shape: {x: 553, y: 10, width: 637, height: 200, r: 5},
    style: {fill: '#fff', stroke: '#cccccc', lineWidth: 1.2}},
  {type: 'line', z: 101, shape: {x1: 567, y1: legRows[0], x2: 622, y2: legRows[0]}, style: {stroke: C_BLACK, lineWidth: 3, lineDash: DASH_BLACK}},
  {type: 'line', z: 101, shape: {x1: 567, y1: legRows[1], x2: 622, y2: legRows[1]}, style: {stroke: C_PINK, lineWidth: 3, lineDash: DASH_PINK}},
  {type: 'line', z: 101, shape: {x1: 567, y1: legRows[2], x2: 622, y2: legRows[2]}, style: {stroke: C_ORANGE, lineWidth: 3}},
  {type: 'rect', z: 101, shape: {x: 567, y: legRows[3] - 10, width: 55, height: 20}, style: {fill: 'rgba(1,115,178,0.70)', stroke: 'rgba(1,115,178,0.5)', lineWidth: 1}},
  {type: 'rect', z: 101, shape: {x: 567, y: legRows[4] - 10, width: 55, height: 20}, style: {fill: 'rgba(2,158,115,0.70)', stroke: 'rgba(2,158,115,0.5)', lineWidth: 1}}
];
legendLabels.forEach((t, k) => {
  graphic.push({type: 'text', z: 102, x: 641, y: legRows[k],
    style: {text: '{n|' + t[0] + '}' + (t[1] ? '{it|' + t[1] + '}' : ''), rich: legRich,
      fill: '#000', verticalAlign: 'middle', align: 'left', font: '28.5px ' + FONT}});
});

const chart = echarts.init(document.getElementById('c'), null, {renderer: 'canvas', width: 1200, height: 1200});
chart.setOption({
  backgroundColor: '#ffffff',
  animation: false,
  grid: grids,
  xAxis: xAxes,
  yAxis: yAxes,
  series: series,
  graphic: graphic
});
</script></body></html>
